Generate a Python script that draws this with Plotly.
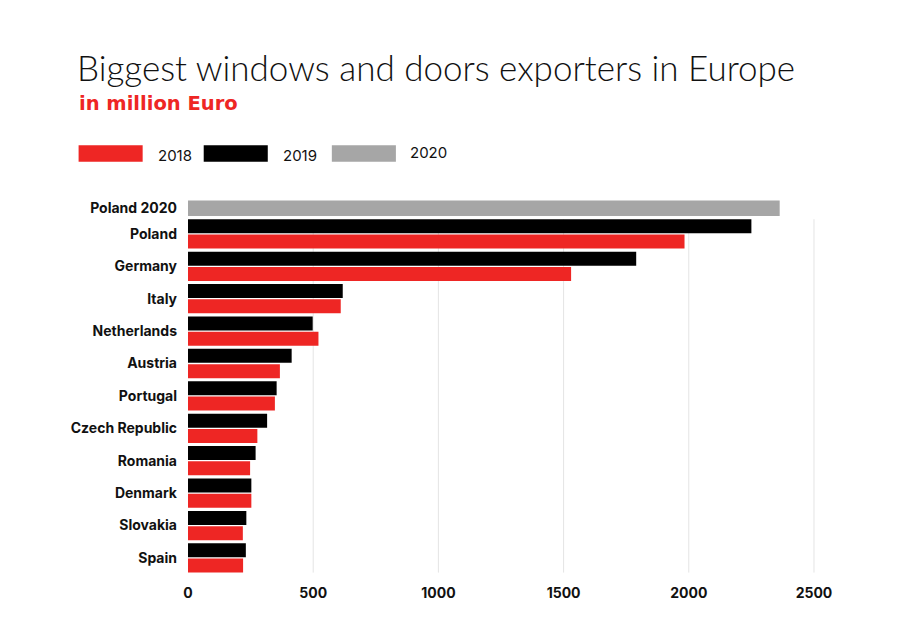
import plotly.graph_objects as go

# ---------------- data ----------------
countries = ["Poland", "Germany", "Italy", "Netherlands", "Austria", "Portugal",
             "Czech Republic", "Romania", "Denmark", "Slovakia", "Spain"]
v2019 = [2250, 1790, 618, 498, 414, 354, 316, 270, 253, 233, 231]
v2018 = [1983, 1530, 610, 521, 367, 347, 277, 248, 253, 219, 220]
poland2020_label = "Poland 2020"
poland2020_value = [2363]
x_ticks = [0, 500, 1000, 1500, 2000, 2500]
legend_years = ["2018", "2019", "2020"]

RED = "#ee2624"
BLACK = "#000000"
GRAY = "#a6a6a6"
GRID = "#e4e4e4"

# ---------------- layout geometry ----------------
W, H = 917, 628
ML, MR, MT, MB = 188.3, 93.3, 194.7, 49
X_RANGE = [0, 2540]
Y_RANGE = [10.65, -1.2]  # reversed
PW = W - ML - MR
PH = H - MT - MB

def px_x(px):
    return (px - ML) / PW

def px_y(py):
    return 1 - (py - MT) / PH

rows = list(range(len(countries)))
y2020 = -0.791

fig = go.Figure()

fig.add_trace(go.Bar(
    x=v2019, y=rows, orientation="h", name="2019",
    marker=dict(color=BLACK, line=dict(width=0)),
    offset=-0.452, width=0.432, showlegend=False, hoverinfo="x"))
fig.add_trace(go.Bar(
    x=v2018, y=rows, orientation="h", name="2018",
    marker=dict(color=RED, line=dict(width=0)),
    offset=0.02, width=0.432, showlegend=False, hoverinfo="x"))
fig.add_trace(go.Bar(
    x=poland2020_value, y=[y2020], orientation="h", name="2020",
    marker=dict(color=GRAY, line=dict(width=0)),
    offset=-0.2375, width=0.475, showlegend=False, hoverinfo="x"))

# grid lines (only across the country rows)
for t in x_ticks[1:]:
    fig.add_shape(type="line", xref="x", yref="y", x0=t, x1=t,
                  y0=-0.452, y1=len(countries) - 1 + 0.452,
                  line=dict(color=GRID, width=1), layer="below")

# legend (custom wide swatches)
legend_colors = [RED, BLACK, GRAY]
sw_x = [(79, 143), (204, 268), (332, 396)]
txt_x = [156, 281, 408]
txt_y = [155, 155.5, 152]
for (x0, x1), c, tx, ty, lab in zip(sw_x, legend_colors, txt_x, txt_y, legend_years):
    fig.add_shape(type="rect", xref="paper", yref="paper",
                  x0=px_x(x0), x1=px_x(x1), y0=px_y(161.5), y1=px_y(145),
                  fillcolor=c, line=dict(width=0))
    fig.add_annotation(xref="paper", yref="paper", x=px_x(tx), y=px_y(ty),
                       xanchor="left", yanchor="middle", showarrow=False,
                       text=lab, font=dict(family="Inter", size=15, color="#111111"))

# subtitle
fig.add_annotation(xref="paper", yref="paper", x=px_x(77), y=px_y(103),
                   xanchor="left", yanchor="middle", showarrow=False,
                   text="<b>in million Euro</b>",
                   font=dict(family="DejaVu Sans", size=19.5, color=RED))

fig.update_layout(
    width=W, height=H,
    margin=dict(l=ML, r=MR, t=MT, b=MB, autoexpand=False),
    paper_bgcolor="white", plot_bgcolor="white",
    barmode="overlay",
    title=dict(text="Biggest windows and doors exporters in Europe",
               xref="container", yref="container",
               x=77 / W, xanchor="left", y=1 - 69 / H, yanchor="middle",
               font=dict(family="Lato", size=35, color="#111111", weight=300)),
    xaxis=dict(range=X_RANGE, tickvals=x_ticks, ticktext=[str(t) for t in x_ticks],
               showgrid=False, zeroline=False, showline=False, ticks="",
               ticklabelstandoff=4,
               tickfont=dict(family="Inter", size=14, color="#111111", weight="bold")),
    yaxis=dict(range=Y_RANGE, tickvals=[y2020] + rows,
               ticktext=[poland2020_label] + countries,
               showgrid=False, zeroline=False, showline=False, ticks="",
               ticklabelstandoff=10,
               tickfont=dict(family="Inter", size=14, color="#111111", weight="bold")),
    showlegend=False,
)

fig.write_html("out.html")
